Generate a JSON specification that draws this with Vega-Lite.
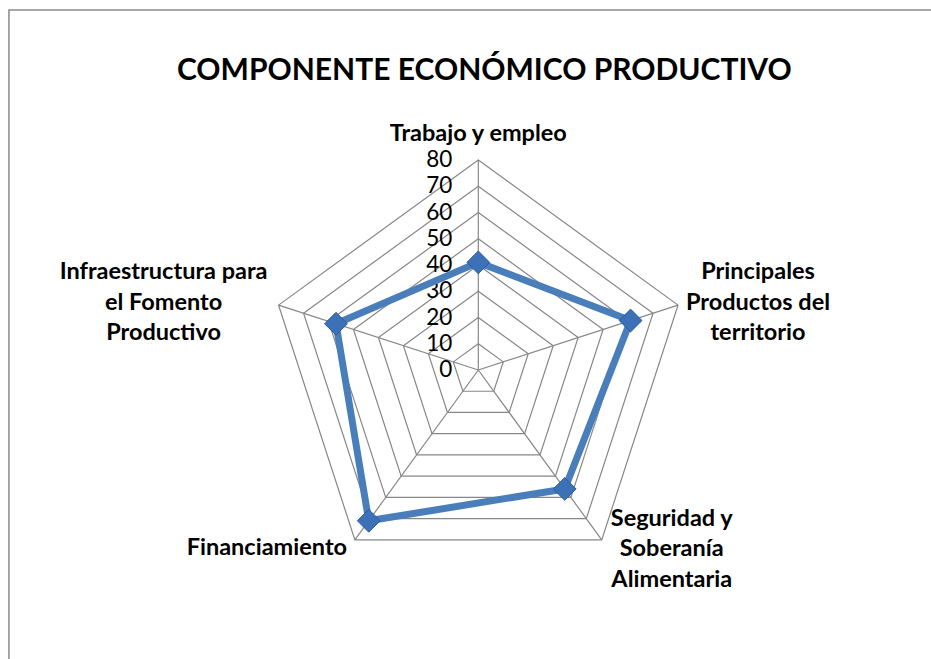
{
  "$schema": "https://vega.github.io/schema/vega-lite/v6.json",
  "width": 420,
  "height": 420,
  "autosize": "none",
  "padding": {"left": 268.3, "top": 160, "right": 242.7, "bottom": 79},
  "background": "white",
  "config": {"view": {"stroke": null}},
  "title": {
    "text": "COMPONENTE ECONÓMICO PRODUCTIVO",
    "font": "Lato",
    "fontSize": 30,
    "fontWeight": "bold",
    "color": "#000000",
    "anchor": "middle",
    "dx": 6,
    "offset": -77
  },
  "datasets": {
    "scores": [
      {"componente": "Trabajo y empleo", "orden": 0, "valor": 41},
      {"componente": "Principales\nProductos del\nterritorio", "orden": 1, "valor": 61},
      {"componente": "Seguridad  y\nSoberanía\nAlimentaria", "orden": 2, "valor": 56},
      {"componente": "Financiamiento", "orden": 3, "valor": 71},
      {"componente": "Infraestructura para\nel Fomento\nProductivo", "orden": 4, "valor": 57}
    ],
    "niveles": [
      {"nivel": 0, "ejes": [0, 1, 2, 3, 4]},
      {"nivel": 10, "ejes": [0, 1, 2, 3, 4]},
      {"nivel": 20, "ejes": [0, 1, 2, 3, 4]},
      {"nivel": 30, "ejes": [0, 1, 2, 3, 4]},
      {"nivel": 40, "ejes": [0, 1, 2, 3, 4]},
      {"nivel": 50, "ejes": [0, 1, 2, 3, 4]},
      {"nivel": 60, "ejes": [0, 1, 2, 3, 4]},
      {"nivel": 70, "ejes": [0, 1, 2, 3, 4]},
      {"nivel": 80, "ejes": [0, 1, 2, 3, 4]}
    ],
    "marco": [{"x0": -178.8, "x1": 200, "y0": 137.1, "y1": -150}]
  },
  "layer": [
    {
      "data": {"name": "marco"},
      "mark": {"type": "rect", "fill": null, "stroke": "#8a8a8a", "strokeWidth": 1.5, "clip": false},
      "encoding": {
        "x": {"field": "x0", "type": "quantitative", "scale": {"domain": [-80, 80], "nice": false, "zero": false}, "axis": null},
        "x2": {"field": "x1"},
        "y": {"field": "y0", "type": "quantitative", "scale": {"domain": [-80, 80], "nice": false, "zero": false}, "axis": null},
        "y2": {"field": "y1"}
      }
    },
    {
      "data": {"name": "niveles"},
      "transform": [
        {"filter": "datum.nivel > 0"},
        {"flatten": ["ejes"], "as": ["eje"]},
        {"calculate": "datum.eje * 2 * PI / 5", "as": "ang"},
        {"calculate": "datum.nivel * sin(datum.ang)", "as": "gx"},
        {"calculate": "datum.nivel * cos(datum.ang)", "as": "gy"}
      ],
      "mark": {"type": "line", "interpolate": "linear-closed", "color": "#878787", "strokeWidth": 1.2},
      "encoding": {
        "x": {"field": "gx", "type": "quantitative", "axis": null},
        "y": {"field": "gy", "type": "quantitative", "axis": null},
        "detail": {"field": "nivel", "type": "nominal"},
        "order": {"field": "eje", "type": "quantitative"}
      }
    },
    {
      "data": {"name": "scores"},
      "transform": [
        {"calculate": "datum.orden * 2 * PI / 5", "as": "ang"},
        {"calculate": "80 * sin(datum.ang)", "as": "ex"},
        {"calculate": "80 * cos(datum.ang)", "as": "ey"},
        {"calculate": "0", "as": "cx"}
      ],
      "mark": {"type": "rule", "color": "#878787", "strokeWidth": 1.2},
      "encoding": {
        "x": {"field": "ex", "type": "quantitative", "axis": null},
        "y": {"field": "ey", "type": "quantitative", "axis": null},
        "x2": {"field": "cx"},
        "y2": {"field": "cx"}
      }
    },
    {
      "data": {"name": "niveles"},
      "transform": [{"calculate": "0", "as": "cx"}],
      "mark": {"type": "text", "align": "right", "baseline": "middle", "dx": -26, "font": "Lato", "fontSize": 22.5, "color": "#000000"},
      "encoding": {
        "x": {"field": "cx", "type": "quantitative", "axis": null},
        "y": {"field": "nivel", "type": "quantitative", "axis": null},
        "text": {"field": "nivel", "type": "quantitative"}
      }
    },
    {
      "data": {"name": "scores"},
      "transform": [
        {"calculate": "datum.orden * 2 * PI / 5", "as": "ang"},
        {"calculate": "datum.valor * sin(datum.ang)", "as": "px"},
        {"calculate": "datum.valor * cos(datum.ang)", "as": "py"}
      ],
      "layer": [
        {
          "mark": {"type": "line", "interpolate": "linear-closed", "color": "#4a7ebb", "strokeWidth": 7, "strokeJoin": "round"},
          "encoding": {
            "x": {"field": "px", "type": "quantitative", "axis": null},
            "y": {"field": "py", "type": "quantitative", "axis": null},
            "order": {"field": "orden", "type": "quantitative"}
          }
        },
        {
          "mark": {"type": "point", "shape": "diamond", "filled": true, "size": 520, "fill": "#3d71b7", "stroke": "#2b5b94", "strokeWidth": 1, "opacity": 1},
          "encoding": {
            "x": {"field": "px", "type": "quantitative", "axis": null},
            "y": {"field": "py", "type": "quantitative", "axis": null}
          }
        }
      ]
    },
    {
      "data": {"name": "scores"},
      "transform": [
        {"calculate": "datum.orden * 2 * PI / 5", "as": "ang"},
        {"calculate": "80 * sin(datum.ang)", "as": "lx"},
        {"calculate": "80 * cos(datum.ang)", "as": "ly"}
      ],
      "encoding": {
        "x": {"field": "lx", "type": "quantitative", "axis": null},
        "y": {"field": "ly", "type": "quantitative", "axis": null},
        "text": {"field": "componente", "type": "nominal"}
      },
      "layer": [
        {
          "transform": [{"filter": "datum.orden == 0"}],
          "mark": {"type": "text", "align": "center", "baseline": "middle", "dx": 0, "dy": -26, "font": "Lato", "fontSize": 23.5, "fontWeight": "bold", "color": "#000000", "lineBreak": "\n", "lineHeight": 30.5}
        },
        {
          "transform": [{"filter": "datum.orden == 1"}],
          "mark": {"type": "text", "align": "center", "baseline": "middle", "dx": 80, "dy": -33, "font": "Lato", "fontSize": 23.5, "fontWeight": "bold", "color": "#000000", "lineBreak": "\n", "lineHeight": 30.5}
        },
        {
          "transform": [{"filter": "datum.orden == 2"}],
          "mark": {"type": "text", "align": "center", "baseline": "middle", "dx": 70, "dy": -21, "font": "Lato", "fontSize": 23.5, "fontWeight": "bold", "color": "#000000", "lineBreak": "\n", "lineHeight": 30.5}
        },
        {
          "transform": [{"filter": "datum.orden == 3"}],
          "mark": {"type": "text", "align": "center", "baseline": "middle", "dx": -88, "dy": 8, "font": "Lato", "fontSize": 23.5, "fontWeight": "bold", "color": "#000000", "lineBreak": "\n", "lineHeight": 30.5}
        },
        {
          "transform": [{"filter": "datum.orden == 4"}],
          "mark": {"type": "text", "align": "center", "baseline": "middle", "dx": -115, "dy": -33, "font": "Lato", "fontSize": 23.5, "fontWeight": "bold", "color": "#000000", "lineBreak": "\n", "lineHeight": 30.5}
        }
      ]
    }
  ]
}
